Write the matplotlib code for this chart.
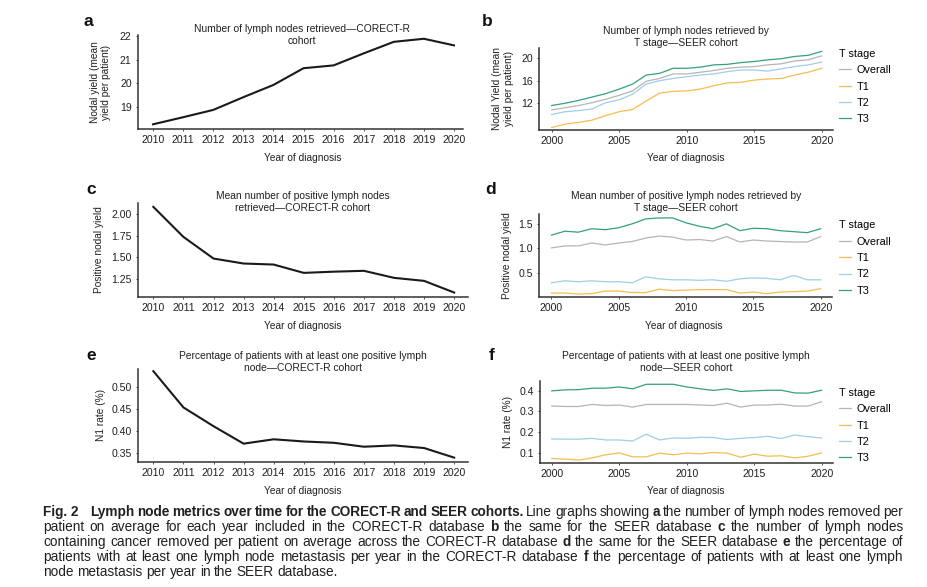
import numpy as np
import matplotlib
matplotlib.use("Agg")
import matplotlib.pyplot as plt
from matplotlib import font_manager

# Daten CORECT-R (2010-2020)
years_cr = np.arange(2010, 2021)
yield_cr = [18.25, 18.55, 18.86, 19.40, 19.92, 20.63, 20.75, 21.26, 21.75, 21.88, 21.60]
pos_cr = [2.085, 1.735, 1.483, 1.425, 1.413, 1.316, 1.330, 1.340, 1.258, 1.223, 1.087]
n1_cr = [0.537, 0.454, 0.411, 0.371, 0.381, 0.376, 0.373, 0.364, 0.367, 0.361, 0.339]

# Daten SEER (2000-2020) nach T-Stadium
years_seer = np.arange(2000, 2021)
stages = ["Overall", "T1", "T2", "T3"]
colors = {"Overall": "#b5b5b5", "T1": "#f6bd4f", "T2": "#9fcdeb", "T3": "#35a07c"}

yield_seer = {
    "Overall": [10.8, 11.2, 11.6, 12.1, 12.7, 13.4, 14.2, 15.9, 16.4, 17.2, 17.2,
                17.5, 17.8, 18.2, 18.4, 18.5, 18.8, 19.0, 19.5, 19.7, 20.4],
    "T1": [7.7, 8.3, 8.6, 9.0, 9.8, 10.5, 10.9, 12.4, 13.8, 14.1, 14.2,
           14.5, 15.1, 15.6, 15.7, 16.1, 16.3, 16.4, 17.0, 17.5, 18.2],
    "T2": [10.0, 10.5, 10.7, 11.0, 12.1, 12.6, 13.6, 15.4, 16.0, 16.4, 16.7,
           17.0, 17.2, 17.6, 17.9, 17.9, 17.7, 18.1, 18.5, 18.8, 19.3],
    "T3": [11.6, 12.0, 12.5, 13.1, 13.7, 14.5, 15.4, 17.0, 17.3, 18.2, 18.2,
           18.4, 18.8, 18.9, 19.2, 19.4, 19.7, 19.9, 20.3, 20.5, 21.2],
}
pos_seer = {
    "Overall": [1.01, 1.05, 1.05, 1.11, 1.07, 1.11, 1.14, 1.21, 1.25, 1.23, 1.17,
                1.18, 1.15, 1.24, 1.13, 1.17, 1.15, 1.14, 1.13, 1.13, 1.24],
    "T1": [0.09, 0.09, 0.07, 0.08, 0.13, 0.13, 0.10, 0.10, 0.17, 0.14, 0.15,
           0.16, 0.16, 0.16, 0.09, 0.11, 0.08, 0.11, 0.12, 0.13, 0.18],
    "T2": [0.30, 0.34, 0.32, 0.34, 0.32, 0.32, 0.30, 0.42, 0.38, 0.36, 0.36,
           0.35, 0.36, 0.33, 0.38, 0.40, 0.39, 0.36, 0.45, 0.36, 0.36],
    "T3": [1.27, 1.35, 1.33, 1.40, 1.38, 1.42, 1.50, 1.60, 1.62, 1.62, 1.52,
           1.45, 1.40, 1.50, 1.36, 1.41, 1.40, 1.36, 1.34, 1.32, 1.40],
}
n1_seer = {
    "Overall": [0.326, 0.324, 0.324, 0.334, 0.329, 0.331, 0.321, 0.334, 0.334, 0.334, 0.334,
                0.331, 0.329, 0.340, 0.321, 0.331, 0.331, 0.335, 0.326, 0.326, 0.347],
    "T1": [0.071, 0.068, 0.063, 0.074, 0.089, 0.098, 0.079, 0.079, 0.097, 0.089, 0.097,
           0.094, 0.100, 0.097, 0.077, 0.092, 0.082, 0.084, 0.074, 0.082, 0.098],
    "T2": [0.166, 0.165, 0.165, 0.169, 0.161, 0.161, 0.156, 0.189, 0.161, 0.171, 0.169,
           0.174, 0.173, 0.163, 0.169, 0.173, 0.179, 0.168, 0.185, 0.177, 0.171],
    "T3": [0.400, 0.405, 0.406, 0.413, 0.413, 0.419, 0.410, 0.432, 0.432, 0.432, 0.419,
           0.410, 0.402, 0.410, 0.397, 0.400, 0.403, 0.403, 0.390, 0.389, 0.403],
}

W, H = 928, 587
plt.rcParams["font.family"] = ["Liberation Sans", "DejaVu Sans"]
txt = "#231f20"
fig = plt.figure(figsize=(W / 100, H / 100), dpi=100)


def fx(x):
    return x / W


def fy(y):
    return 1 - y / H


def make_axes(l, r, t, b):
    ax = fig.add_axes([fx(l), fy(b), (r - l) / W, (b - t) / H])
    for s in ["top", "right"]:
        ax.spines[s].set_visible(False)
    for s in ["left", "bottom"]:
        ax.spines[s].set_linewidth(1.1)
        ax.spines[s].set_color("#333333")
    ax.tick_params(length=1.5, width=0.6, labelsize=7.6, pad=3, colors="#333333",
                   labelcolor=txt)
    return ax


def texts(letter, lpos, title, tpos, xl, xlpos, yl, ylpos):
    fig.text(fx(lpos[0]), fy(lpos[1]), letter, fontsize=12.5, fontweight="bold",
             ha="center", va="center", color="#111111")
    fig.text(fx(tpos[0]), fy(tpos[1]), title, fontsize=7.4, ha="center", va="center",
             linespacing=1.25, color=txt)
    fig.text(fx(xlpos[0]), fy(xlpos[1]), xl, fontsize=7.3, ha="center", va="center", color=txt)
    fig.text(fx(ylpos[0]), fy(ylpos[1]), yl, fontsize=7.3, ha="center", va="center",
             rotation=90, linespacing=1.15, color=txt)


def seer_legend(ax, top):
    ax.legend(loc="upper left", bbox_to_anchor=(fx(839), fy(top)),
              bbox_transform=fig.transFigure, frameon=False, title="T stage",
              alignment="left", fontsize=7.8, title_fontsize=7.8, handlelength=1.15,
              handletextpad=0.45, labelspacing=0.58, borderaxespad=0, borderpad=0)


# a
ax = make_axes(138, 463, 35, 129)
ax.plot(years_cr, yield_cr, color="#1a1a1a", lw=1.5)
ax.set_xlim(2009.5, 2020.3)
ax.set_ylim(18.05, 22.04)
ax.set_xticks(years_cr)
ax.set_yticks([19, 20, 21, 22])
texts("a", (88, 22), "Number of lymph nodes retrieved\u2014CORECT-R\ncohort", (302, 35.5),
      "Year of diagnosis", (302.7, 157.7), "Nodal yield (mean\nyield per patient)", (100.7, 82))

# b
ax = make_axes(539, 833, 48, 130)
for st in stages:
    ax.plot(years_seer, yield_seer[st], color=colors[st], lw=0.9, label=st)
ax.set_xlim(1999.06, 2020.84)
ax.set_ylim(7.25, 21.8)
ax.set_xticks([2000, 2005, 2010, 2015, 2020])
ax.set_yticks([12, 16, 20])
seer_legend(ax, 49)
texts("b", (487, 22), "Number of lymph nodes retrieved by\nT stage\u2014SEER cohort", (686, 36.5),
      "Year of diagnosis", (686, 158), "Nodal Yield (mean\nyield per patient)", (503, 89))

# c
ax = make_axes(138, 468, 203, 297)
ax.plot(years_cr, pos_cr, color="#1a1a1a", lw=1.5)
ax.set_xlim(2009.49, 2020.46)
ax.set_ylim(1.035, 2.13)
ax.set_xticks(years_cr)
ax.set_yticks([1.25, 1.50, 1.75, 2.00])
ax.set_yticklabels(["1.25", "1.50", "1.75", "2.00"])
texts("c", (91, 190), "Mean number of positive lymph nodes\nretrieved\u2014CORECT-R cohort", (303, 201.7),
      "Year of diagnosis", (303, 325.7), "Positive nodal yield", (99, 250))

# d
ax = make_axes(539, 832, 214, 297)
for st in stages:
    ax.plot(years_seer, pos_seer[st], color=colors[st], lw=0.9, label=st)
ax.set_xlim(1999.08, 2020.84)
ax.set_ylim(0.01, 1.70)
ax.set_xticks([2000, 2005, 2010, 2015, 2020])
ax.set_yticks([0.5, 1.0, 1.5])
seer_legend(ax, 220.5)
texts("d", (491, 190), "Mean number of positive lymph nodes retrieved by\nT stage\u2014SEER cohort", (686, 201.7),
      "Year of diagnosis", (684, 325.7), "Positive nodal yield", (506.7, 256))

# e
ax = make_axes(138, 468, 369, 462)
ax.plot(years_cr, n1_cr, color="#1a1a1a", lw=1.5)
ax.set_xlim(2009.49, 2020.46)
ax.set_ylim(0.329, 0.542)
ax.set_xticks(years_cr)
ax.set_yticks([0.35, 0.40, 0.45, 0.50])
ax.set_yticklabels(["0.35", "0.40", "0.45", "0.50"])
texts("e", (91, 356), "Percentage of patients with at least one positive lymph\nnode\u2014CORECT-R cohort", (303, 361.7),
      "Year of diagnosis", (303, 491), "N1 rate (%)", (100.7, 415))

# f
ax = make_axes(540, 833, 381, 463)
for st in stages:
    ax.plot(years_seer, n1_seer[st], color=colors[st], lw=0.9, label=st)
ax.set_xlim(1999.13, 2020.84)
ax.set_ylim(0.049, 0.448)
ax.set_xticks([2000, 2005, 2010, 2015, 2020])
ax.set_yticks([0.1, 0.2, 0.3, 0.4])
seer_legend(ax, 388)
texts("f", (492, 355), "Percentage of patients with at least one positive lymph\nnode\u2014SEER cohort", (686, 361.7),
      "Year of diagnosis", (686, 491), "N1 rate (%)", (508, 422))

# Bildunterschrift (Blocksatz, Wort fuer Wort gesetzt)
try:
    font_manager.findfont(font_manager.FontProperties(family="Liberation Sans Narrow"),
                          fallback_to_default=False)
    cap_font = "Liberation Sans Narrow"
except ValueError:
    cap_font = "Liberation Sans"
cap_size = 9.8

caption = [
    [("Fig. 2", True), ("Lymph node metrics over time for the CORECT-R and SEER cohorts.", True),
     ("Line graphs showing", False), ("a", True), ("the number of lymph nodes removed per", False)],
    [("patient on average for each year included in the CORECT-R database", False), ("b", True),
     ("the same for the SEER database", False), ("c", True), ("the number of lymph nodes", False)],
    [("containing cancer removed per patient on average across the CORECT-R database", False),
     ("d", True), ("the same for the SEER database", False), ("e", True), ("the percentage of", False)],
    [("patients with at least one lymph node metastasis per year in the CORECT-R database", False),
     ("f", True), ("the percentage of patients with at least one lymph", False)],
    [("node metastasis per year in the SEER database.", False)],
]
cap_y = [512, 527.3, 542.3, 557.3, 572.3]
x0, x1 = 43, 903
fig_gap = 9  # extra Abstand nach "Fig. 2"

renderer = fig.canvas.get_renderer()
for i, line in enumerate(caption):
    words = []
    for seg, bold in line:
        if seg == "Fig. 2":
            words.append((seg, bold))
        else:
            words += [(w, bold) for w in seg.split()]
    objs = []
    for w, bold in words:
        t = fig.text(0, fy(cap_y[i]), w, fontsize=cap_size, family=cap_font,
                     fontweight="bold" if bold else "normal", va="center", ha="left", color=txt)
        objs.append(t)
    widths = [t.get_window_extent(renderer).width for t in objs]
    if words[0][0] == "Fig. 2":
        widths[0] += fig_gap
    if i < len(caption) - 1:
        gap = (x1 - x0 - sum(widths)) / (len(objs) - 1)
    else:
        gap = 0.27 * cap_size * 100 / 72
    x = x0
    for t, wd in zip(objs, widths):
        t.set_x(fx(x))
        x += wd + gap

fig.savefig("out.png", dpi=100)
